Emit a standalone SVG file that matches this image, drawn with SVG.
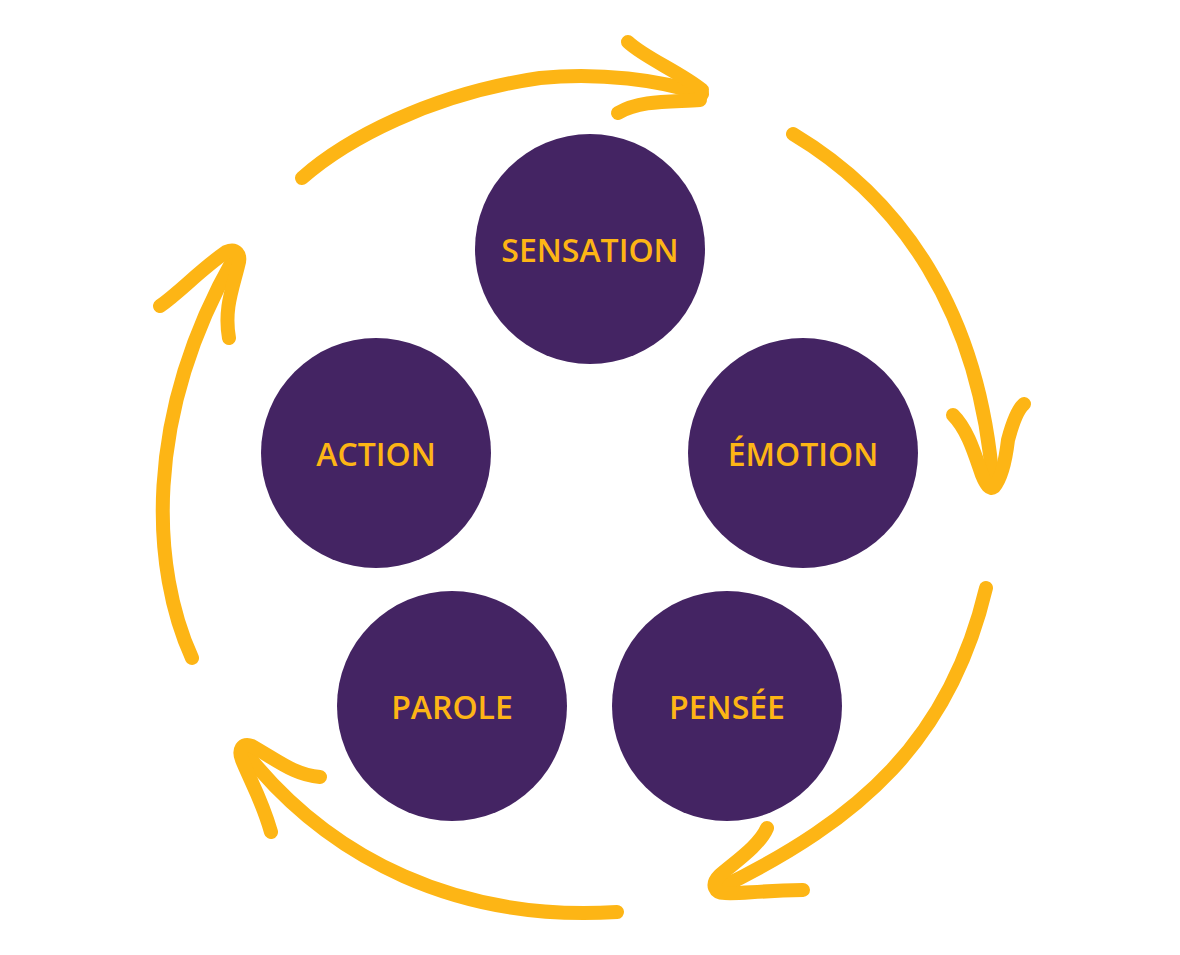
<svg xmlns="http://www.w3.org/2000/svg" width="1180" height="955" viewBox="0 0 1180 955">
<style>
.c{fill:#442463}
.t{fill:#FDB515;font-family:"Open Sans","Liberation Sans",sans-serif;font-weight:600;font-size:32px;text-anchor:middle;dominant-baseline:central}
.a{fill:none;stroke:#FDB515;stroke-width:14;stroke-linecap:round;stroke-linejoin:round}
</style>
<rect width="1180" height="955" fill="#fff"/>
<g id="connectors">
<path class="a" d="M302,178 C345,140 430,94 540,78 C600,72 660,80 702,94"/>
<path class="a" d="M628,42 C645,58 680,72 702,90 M618,113 C640,100 670,102 700,100"/>
<path class="a" d="M793,134 C900,198 980,310 993,485"/>
<path class="a" d="M953,415 C968,430 975,455 982,475 C986,485 990,490 994,487 C1000,480 1005,465 1008,440 C1012,425 1017,410 1024,404"/>
<path class="a" d="M986,588 C950,740 860,820 720,888"/>
<path class="a" d="M767,828 C760,845 735,862 720,875 C710,885 715,893 725,893 C740,894 755,891 803,890"/>
<path class="a" d="M617,912 C460,922 330,860 245,752"/>
<path class="a" d="M320,777 C295,775 280,762 252,746 C242,742 238,750 242,760 C250,780 262,800 271,832"/>
<path class="a" d="M192,658 C152,570 142,420 234,258"/>
<path class="a" d="M160,306 C180,292 200,270 226,252 C236,248 242,254 238,266 C232,290 224,310 229,338"/>
</g>
<g id="sensation"><circle class="c" cx="590" cy="249" r="115"/><text class="t" x="590" y="249">SENSATION</text></g>
<g id="emotion"><circle class="c" cx="803" cy="453" r="115"/><text class="t" x="803" y="453">ÉMOTION</text></g>
<g id="pensee"><circle class="c" cx="727" cy="706" r="115"/><text class="t" x="727" y="706">PENSÉE</text></g>
<g id="parole"><circle class="c" cx="452" cy="706" r="115"/><text class="t" x="452" y="706">PAROLE</text></g>
<g id="action"><circle class="c" cx="376" cy="453" r="115"/><text class="t" x="376" y="453">ACTION</text></g>
</svg>
